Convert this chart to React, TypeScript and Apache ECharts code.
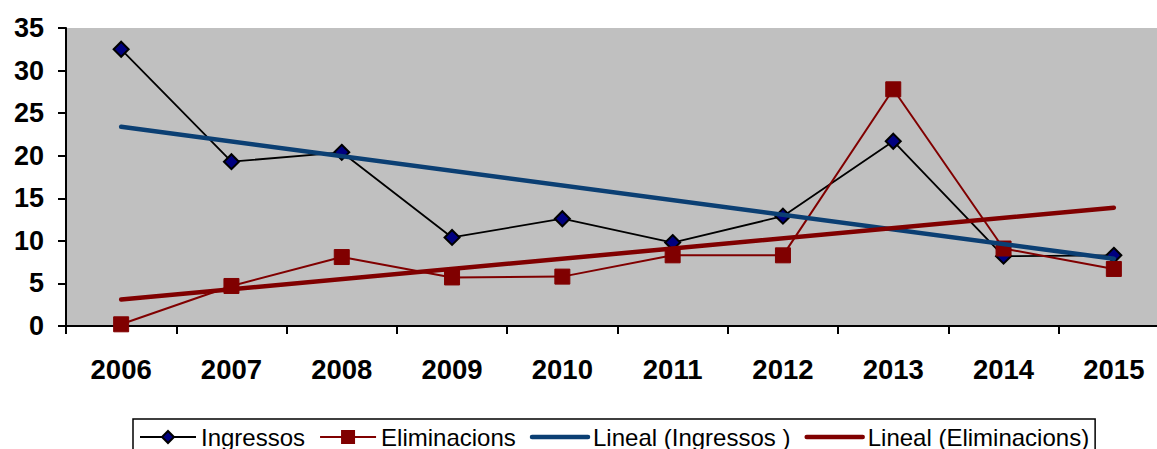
import React, { useEffect, useRef } from "react";
import * as echarts from "echarts";

const categories = ["2006", "2007", "2008", "2009", "2010", "2011", "2012", "2013", "2014", "2015"];
const ingressos = [32.5, 19.3, 20.4, 10.4, 12.6, 9.8, 12.9, 21.7, 8.2, 8.3];
const eliminacions = [0.2, 4.7, 8.1, 5.7, 5.8, 8.3, 8.3, 27.8, 9.1, 6.7];
const linealIngressos = [23.4, null, null, null, null, null, null, null, null, 7.9];
const linealEliminacions = [3.1, null, null, null, null, null, null, null, null, 13.9];
const yTicks = { min: 0, max: 35, interval: 5 };

const FONT = "'Liberation Sans', Arial, sans-serif";

export default function App() {
  const ref = useRef<HTMLDivElement>(null);
  useEffect(() => {
    if (!ref.current) return;
    const chart = echarts.init(ref.current, undefined, { renderer: "svg" });
    chart.setOption({
      animation: false,
      grid: {
        left: 66,
        right: 11,
        top: 28,
        bottom: 123,
        show: true,
        backgroundColor: "#c0c0c0",
        borderWidth: 0,
      },
      xAxis: {
        type: "category",
        data: categories,
        boundaryGap: true,
        axisLine: { lineStyle: { color: "#000", width: 2 } },
        axisTick: { show: true, length: 8, lineStyle: { color: "#000", width: 2 } },
        axisLabel: { color: "#000", fontFamily: FONT, fontWeight: "bold", fontSize: 27.5, margin: 29 },
      },
      yAxis: {
        type: "value",
        min: yTicks.min,
        max: yTicks.max,
        interval: yTicks.interval,
        splitLine: { show: false },
        axisLine: { show: true, lineStyle: { color: "#000", width: 2 } },
        axisTick: { show: true, length: 8, lineStyle: { color: "#000", width: 2 } },
        axisLabel: { color: "#000", fontFamily: FONT, fontWeight: "bold", fontSize: 27, margin: 22 },
      },
      legend: {
        left: 133,
        top: 419,
        orient: "horizontal",
        backgroundColor: "#fff",
        borderColor: "#000",
        borderWidth: 1.5,
        padding: [6, 6, 30, 6],
        itemGap: 14,
        itemWidth: 56,
        itemHeight: 15,
        textStyle: { color: "#000", fontFamily: FONT, fontSize: 24 },
        data: [
          { name: "Ingressos" },
          { name: "Eliminacions" },
          { name: "Lineal (Ingressos )", itemStyle: { opacity: 0 }, lineStyle: { width: 4.5, color: "#0b3f73" } },
          { name: "Lineal (Eliminacions)", itemStyle: { opacity: 0 }, lineStyle: { width: 4.5, color: "#800000" } },
        ],
      },
      series: [
        {
          name: "Ingressos",
          type: "line",
          data: ingressos,
          symbol: "diamond",
          symbolSize: 15,
          color: "#000080",
          lineStyle: { color: "#000", width: 1.8 },
          itemStyle: { color: "#000080", borderColor: "#000", borderWidth: 2 },
          z: 2,
        },
        {
          name: "Eliminacions",
          type: "line",
          data: eliminacions,
          symbol: "rect",
          symbolSize: 15,
          color: "#800000",
          lineStyle: { color: "#800000", width: 2 },
          itemStyle: { color: "#800000", borderColor: "#800000", borderWidth: 1 },
          z: 2,
        },
        {
          name: "Lineal (Ingressos )",
          type: "line",
          data: linealIngressos,
          connectNulls: true,
          symbol: "none",
          color: "#0b3f73",
          lineStyle: { color: "#0b3f73", width: 4.5, cap: "round" },
          z: 3,
        },
        {
          name: "Lineal (Eliminacions)",
          type: "line",
          data: linealEliminacions,
          connectNulls: true,
          symbol: "none",
          color: "#800000",
          lineStyle: { color: "#800000", width: 4.5, cap: "round" },
          z: 3,
        },
      ],
    });
    return () => chart.dispose();
  }, []);
  return (
    <div style={{ position: "fixed", left: 0, top: 0, width: 1157, height: 449, overflow: "hidden", background: "#fff" }}>
      <div ref={ref} style={{ width: 1180, height: 449 }} />
    </div>
  );
}
